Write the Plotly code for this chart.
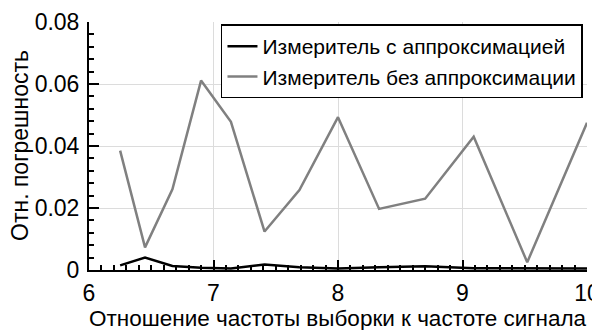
import plotly.graph_objects as go

x_vals = [6.25, 6.45, 6.67, 6.90, 7.14, 7.41, 7.69, 8.00, 8.33, 8.70, 9.09, 9.52, 10.00]
with_approx = [0.0015, 0.0040, 0.0013, 0.0007, 0.0005, 0.0018, 0.0009, 0.0005, 0.0009, 0.0012, 0.0006, 0.0006, 0.0005]
without_approx = [0.0385, 0.0073, 0.0260, 0.0611, 0.0478, 0.0124, 0.0258, 0.0493, 0.0197, 0.0230, 0.0430, 0.0025, 0.0475]

name_with = "Измеритель с аппроксимацией"
name_without = "Измеритель без аппроксимации"
x_title = "Отношение частоты выборки к частоте сигнала"
y_title = "Отн. погрешность"
x_ticks = [6, 7, 8, 9, 10]
y_ticks = [0, 0.02, 0.04, 0.06, 0.08]
y_ticktext = ["0", "0.02", "0.04", "0.06", "0.08"]

FONT = "Liberation Sans, Arial, sans-serif"

fig = go.Figure()
fig.add_trace(go.Scatter(x=x_vals, y=with_approx, mode="lines", name=name_with,
                         line=dict(color="black", width=2.5)))
fig.add_trace(go.Scatter(x=x_vals, y=without_approx, mode="lines", name=name_without,
                         line=dict(color="#808080", width=2.5)))

# page body has an 8px default margin; size the figure to compensate
fig.update_layout(
    width=592, height=322,
    margin=dict(l=81, r=13, t=14, b=60),
    paper_bgcolor="white", plot_bgcolor="white",
    font=dict(family=FONT, size=21, color="black"),
    showlegend=True,
    legend=dict(x=0.265, y=0.99, xanchor="left", yanchor="top",
                bordercolor="black", borderwidth=1.5, bgcolor="white",
                font=dict(size=21), tracegroupgap=0, itemwidth=30),
    xaxis=dict(range=[6, 10], tickvals=x_ticks, ticks="inside", ticklen=10, tickwidth=1.5,
               tickcolor="black", showline=True, linecolor="black", linewidth=2,
               showgrid=True, gridcolor="#dcdcdc", gridwidth=1, zeroline=False,
               automargin=False, ticklabelstandoff=1,
               tickfont=dict(size=23),
               minor=dict(dtick=0.1, ticks="inside", ticklen=5, tickwidth=1.5, tickcolor="black", showgrid=False)),
    yaxis=dict(range=[0, 0.08], tickvals=y_ticks, ticktext=y_ticktext, ticks="inside", ticklen=10, tickwidth=1.5,
               tickcolor="black", showline=True, linecolor="black", linewidth=2,
               showgrid=True, gridcolor="#dcdcdc", gridwidth=1, zeroline=False,
               automargin=False, ticklabelstandoff=3,
               tickfont=dict(size=23),
               minor=dict(dtick=0.004, ticks="inside", ticklen=5, tickwidth=1.5, tickcolor="black", showgrid=False)),
    annotations=[
        dict(text=x_title, xref="paper", yref="paper", x=0.5, y=0, xanchor="center", yanchor="middle",
             yshift=-48, showarrow=False, font=dict(size=22.5)),
        dict(text=y_title, xref="paper", yref="paper", x=0, y=0.5, xanchor="center", yanchor="middle",
             xshift=-69, textangle=-90, showarrow=False, font=dict(size=23)),
    ],
)

fig.write_html("out.html")
